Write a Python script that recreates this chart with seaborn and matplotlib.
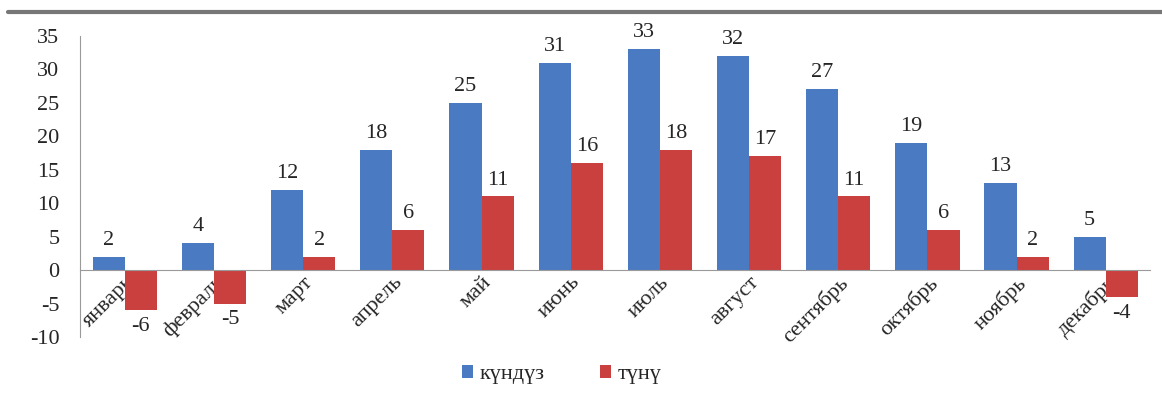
import pandas as pd
import matplotlib
matplotlib.use('Agg')
import matplotlib.pyplot as plt
import seaborn as sns

# Data
months = ['январь', 'февраль', 'март', 'апрель', 'май', 'июнь', 'июль',
          'август', 'сентябрь', 'октябрь', 'ноябрь', 'декабрь']
day = [2, 4, 12, 18, 25, 31, 33, 32, 27, 19, 13, 5]
night = [-6, -5, 2, 6, 11, 16, 18, 17, 11, 6, 2, -4]
seriesNames = ['күндүз', 'түнү']
colors = ['#4A7BC2', '#C9403F']

df = pd.DataFrame({'month': months * 2,
                   'value': day + night,
                   'series': [seriesNames[0]] * 12 + [seriesNames[1]] * 12})

sns.set_style('white')
plt.rcParams['font.family'] = ['Liberation Serif', 'DejaVu Serif']
plt.rcParams['axes.unicode_minus'] = False

fs = 16

fig = plt.figure(figsize=(11.62, 4.12), dpi=100)
ax = fig.add_axes([0.069, 0.182, 0.921, 0.731])

sns.barplot(data=df, x='month', y='value', hue='series', palette=colors,
            width=0.72, saturation=1, linewidth=0, ax=ax, legend=True)

# data labels
for cont in ax.containers:
    for bar in cont:
        v = bar.get_height()
        x = bar.get_x() + bar.get_width() / 2
        if v >= 0:
            ax.annotate(f'{v:g}', (x, v), xytext=(0, 5), textcoords='offset points',
                        ha='center', va='bottom', fontsize=fs)
        else:
            ax.annotate(f'{v:g}', (x, v), xytext=(0, -5), textcoords='offset points',
                        ha='center', va='top', fontsize=fs)

ax.set_ylim(-10, 35)
ax.set_yticks(range(-10, 36, 5))
ax.set_xlim(-0.5, 11.5)
ax.set_xlabel('')
ax.set_ylabel('')

for s in ['top', 'right']:
    ax.spines[s].set_visible(False)
ax.spines['bottom'].set_position(('data', 0))
ax.spines['bottom'].set_color('#9a9a9a')
ax.spines['left'].set_color('#9a9a9a')

ax.tick_params(axis='y', labelsize=fs, length=0, pad=15)
ax.tick_params(axis='x', labelsize=fs, length=0, pad=2)
plt.setp(ax.get_xticklabels(), rotation=45, ha='right', rotation_mode='anchor')

leg = ax.legend(loc='center', bbox_to_anchor=(0.45, -0.125), ncol=2,
                frameon=False, fontsize=fs, handlelength=0.5, handleheight=0.5,
                columnspacing=2.5, handletextpad=0.3)

# page rule above the chart
fig.add_artist(plt.Line2D([0.007, 1.0], [0.97, 0.97], color='#777777', lw=3))

fig.savefig('out.png', dpi=100)
